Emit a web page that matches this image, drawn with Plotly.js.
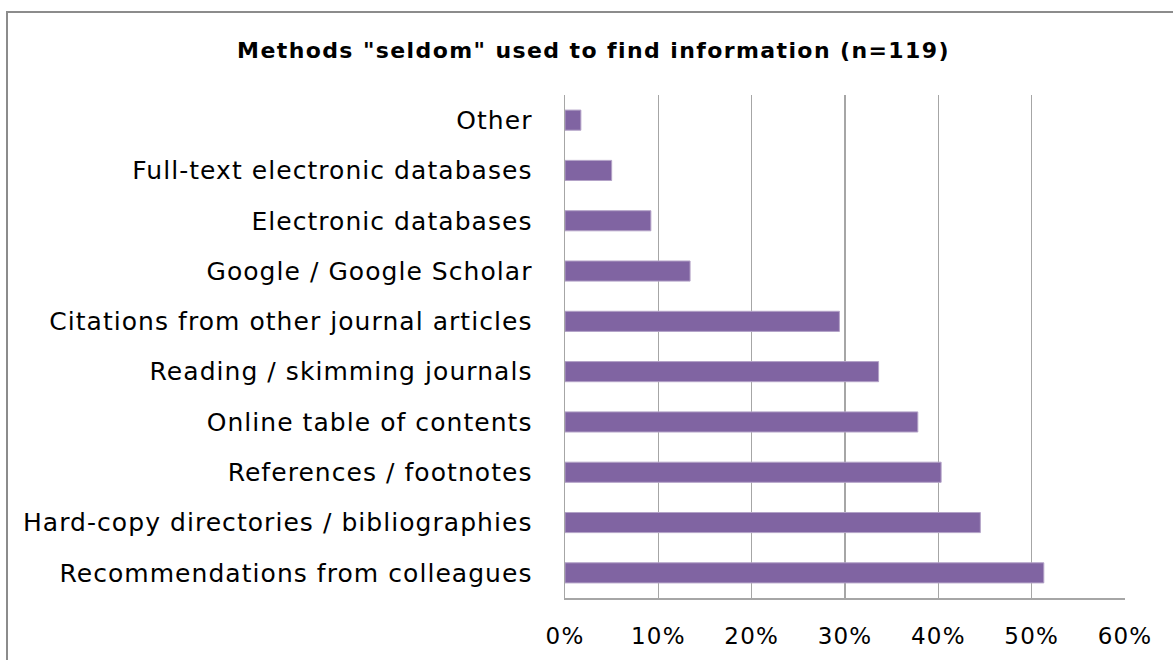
<!DOCTYPE html>
<html>
<head>
<meta charset="utf-8">
<script src="https://cdn.plot.ly/plotly-3.0.1.min.js"></script>
<style>
html,body{margin:0;padding:0;background:#fff;}
#chart{width:1173px;height:660px;}
#chart .gtitle{letter-spacing:1.4px;}
#chart .ytick text{letter-spacing:1.05px;}
#chart .xtick text{letter-spacing:1.2px;}
</style>
</head>
<body>
<div id="chart"></div>
<script>
// Data (bottom-to-top order as drawn)
const categories = [
  "Recommendations from colleagues",
  "Hard-copy directories / bibliographies",
  "References / footnotes",
  "Online table of contents",
  "Reading / skimming journals",
  "Citations from other journal articles",
  "Google / Google Scholar",
  "Electronic databases",
  "Full-text electronic databases",
  "Other"
];
const seldomPct = [51.3, 44.5, 40.3, 37.8, 33.6, 29.4, 13.4, 9.2, 5.0, 1.7];
const tickVals = [0, 10, 20, 30, 40, 50, 60];
const tickLabels = ["0%", "10%", "20%", "30%", "40%", "50%", "60%"];

const FONT = "DejaVu Sans, Verdana, sans-serif";

const trace = {
  type: "bar",
  orientation: "h",
  y: categories,
  x: seldomPct,
  marker: {color: "#8064A2", line: {color: "#B3A2C7", width: 1}},
  hoverinfo: "x+y"
};

const layout = {
  width: 1173,
  height: 660,
  margin: {l: 565, r: 48, t: 95, b: 62},
  paper_bgcolor: "#ffffff",
  plot_bgcolor: "#ffffff",
  showlegend: false,
  bargap: 0.6,
  title: {
    text: "<b>Methods \"seldom\" used to find information (n=119)</b>",
    font: {family: FONT, size: 22, color: "#000000"},
    x: 0.506, xanchor: "center", xref: "container",
    y: 0.924, yanchor: "middle", yref: "container"
  },
  xaxis: {
    range: [0, 60],
    tickvals: tickVals,
    ticktext: tickLabels,
    showgrid: true,
    gridcolor: "#A6A6A6",
    gridwidth: 1.5,
    zeroline: false,
    showline: true,
    linecolor: "#A6A6A6",
    linewidth: 1.5,
    ticks: "",
    ticklabelstandoff: 17,
    tickfont: {family: FONT, size: 23, color: "#000000"},
    fixedrange: true
  },
  yaxis: {
    showgrid: false,
    zeroline: false,
    showline: true,
    linecolor: "#A6A6A6",
    linewidth: 1.5,
    ticks: "",
    ticklabelstandoff: 26,
    tickfont: {family: FONT, size: 25, color: "#000000"},
    fixedrange: true
  },
  shapes: [
    {
      type: "rect", xref: "paper", yref: "paper", layer: "above",
      x0: (7 - 565) / 560, x1: 1.2, y0: -0.3, y1: (598 - 12) / 503,
      line: {color: "#8C8C8C", width: 2}, fillcolor: "rgba(0,0,0,0)"
    }
  ]
};

Plotly.newPlot("chart", [trace], layout, {displayModeBar: false, staticPlot: true});
</script>
</body>
</html>
